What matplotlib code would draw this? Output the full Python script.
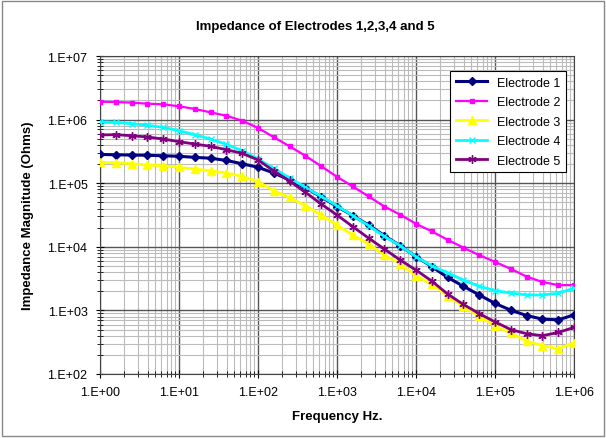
import numpy as np
import matplotlib
matplotlib.use('Agg')
import matplotlib.pyplot as plt
from matplotlib.ticker import LogLocator, FuncFormatter, NullFormatter
from matplotlib.patches import Rectangle

plt.rcParams['font.family'] = ['Liberation Sans', 'DejaVu Sans']

# frequencies: 5 points per decade, 1 Hz .. 1 MHz
freq = [1.0, 1.58, 2.51, 3.98, 6.31,
        10, 15.8, 25.1, 39.8, 63.1,
        100, 158, 251, 398, 631,
        1e3, 1.58e3, 2.51e3, 3.98e3, 6.31e3,
        1e4, 1.58e4, 2.51e4, 3.98e4, 6.31e4,
        1e5, 1.58e5, 2.51e5, 3.98e5, 6.31e5,
        1e6]

electrode1 = [2.83e5, 2.8e5, 2.77e5, 2.75e5, 2.7e5, 2.65e5, 2.55e5, 2.47e5, 2.28e5, 2.02e5,
              1.78e5, 1.45e5, 1.12e5, 8.55e4, 6.1e4, 4.3e4, 3.1e4, 2.2e4, 1.5e4, 1.04e4,
              7.0e3, 4.9e3, 3.3e3, 2.4e3, 1.75e3, 1.29e3, 1.01e3, 830, 730, 710, 850]
electrode2 = [1.91e6, 1.89e6, 1.85e6, 1.78e6, 1.74e6, 1.62e6, 1.47e6, 1.30e6, 1.15e6, 9.6e5,
              7.4e5, 5.3e5, 3.8e5, 2.7e5, 1.85e5, 1.26e5, 8.9e4, 6.2e4, 4.3e4, 3.2e4,
              2.3e4, 1.75e4, 1.29e4, 9.7e3, 7.4e3, 5.8e3, 4.5e3, 3.4e3, 2.8e3, 2.5e3, 2.5e3]
electrode3 = [2.13e5, 2.1e5, 2.03e5, 1.93e5, 1.88e5, 1.78e5, 1.67e5, 1.57e5, 1.45e5, 1.28e5,
              1.06e5, 7.6e4, 5.96e4, 4.43e4, 3.16e4, 2.2e4, 1.53e4, 1.11e4, 7.4e3, 5.4e3,
              3.5e3, 2.6e3, 1.7e3, 1.16e3, 810, 570, 440, 330, 280, 250, 310]
electrode4 = [9.27e5, 9.07e5, 8.63e5, 8.13e5, 7.56e5, 6.69e5, 5.79e5, 4.95e5, 4.08e5, 3.24e5,
              2.4e5, 1.71e5, 1.21e5, 8.6e4, 6.2e4, 4.4e4, 3.1e4, 2.15e4, 1.46e4, 1.04e4,
              7.0e3, 5.0e3, 3.9e3, 3.0e3, 2.4e3, 2.04e3, 1.88e3, 1.75e3, 1.75e3, 1.86e3, 2.23e3]
electrode5 = [5.73e5, 5.8e5, 5.58e5, 5.33e5, 4.95e5, 4.5e5, 4.13e5, 3.8e5, 3.36e5, 2.95e5,
              2.32e5, 1.56e5, 1.08e5, 7.2e4, 4.7e4, 3.16e4, 2.08e4, 1.37e4, 9.2e3, 6.2e3,
              4.3e3, 2.9e3, 1.81e3, 1.24e3, 890, 660, 500, 430, 400, 450, 540]

series = [
    ('Electrode 1', electrode1, '#000080', 'D', 4.5, 2.2),
    ('Electrode 2', electrode2, '#FF00FF', 's', 3.5, 1.6),
    ('Electrode 3', electrode3, '#FFFF00', '^', 6, 2.0),
    ('Electrode 4', electrode4, '#00FFFF', 'x', 5, 2.0),
    ('Electrode 5', electrode5, '#800080', (6, 2, 0), 6, 2.0),
]

fig = plt.figure(figsize=(6.06, 4.39), dpi=100)
ax = fig.add_axes([100/606, 1-375/439, 474/606, 318/439])

for name, vals, col, mk, ms, lw in series:
    ax.plot(freq, vals, color=col, marker=mk, markersize=ms, linewidth=lw,
            markeredgewidth=1.0, label=name, zorder=3)

ax.set_xscale('log')
ax.set_yscale('log')
ax.set_xlim(1, 1e6)
ax.set_ylim(1e2, 1e7)

def sci(v, pos):
    e = int(round(np.log10(v)))
    return '1.E%+03d' % e

ax.xaxis.set_major_locator(LogLocator(base=10, numticks=10))
ax.yaxis.set_major_locator(LogLocator(base=10, numticks=10))
ax.xaxis.set_minor_locator(LogLocator(base=10, subs=np.arange(2, 10), numticks=10))
ax.yaxis.set_minor_locator(LogLocator(base=10, subs=np.arange(2, 10), numticks=10))
ax.xaxis.set_major_formatter(FuncFormatter(sci))
ax.yaxis.set_major_formatter(FuncFormatter(sci))
ax.xaxis.set_minor_formatter(NullFormatter())
ax.yaxis.set_minor_formatter(NullFormatter())

ax.grid(True, which='major', color='#555555', linewidth=1.0, zorder=0)
ax.grid(True, which='minor', color='#bbbbbb', linewidth=0.8, zorder=0)
ax.set_axisbelow(True)
ax.tick_params(which='major', direction='inout', length=6, labelsize=9, pad=6)
ax.tick_params(which='minor', direction='inout', length=4)
for s in ax.spines.values():
    s.set_color('#444444')

ax.set_xlabel('Frequency Hz.', fontsize=9.5, fontweight='bold', labelpad=8)
ax.set_ylabel('Impedance Magnitude (Ohms)', fontsize=9.5, fontweight='bold', labelpad=10)
fig.text(315/606, 1-27/439, 'Impedance of Electrodes 1,2,3,4 and 5',
         ha='center', va='center', fontsize=9.5, fontweight='bold')

leg = ax.legend(loc='upper right', bbox_to_anchor=(0.997, 0.972), fontsize=9,
                fancybox=False, framealpha=1, edgecolor='black',
                handlelength=2.5, borderpad=0.45, labelspacing=0.6)
leg.get_frame().set_linewidth(0.8)

fig.patches.append(Rectangle((0.004, 0.004), 0.992, 0.992, transform=fig.transFigure,
                             fill=False, edgecolor='#888888', linewidth=1))

fig.savefig('out.png', dpi=100)
